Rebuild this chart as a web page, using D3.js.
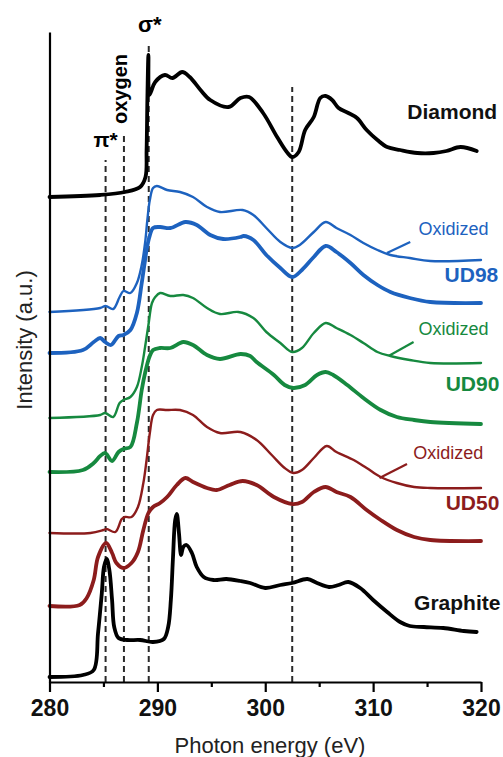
<!DOCTYPE html>
<html>
<head>
  <meta charset="utf-8">
  <script src="https://d3js.org/d3.v7.min.js"></script>
  <style>
    body { margin: 0; background: #fff; }
    svg text { font-family: "Liberation Sans", Arial, sans-serif; }
  </style>
</head>
<body>
<script>
  // photon energy (eV) and intensity (a.u., stacked)
  var diamondE = [280, 284.7, 287.0, 288.4, 288.9, 289.0, 289.08, 289.17, 289.25, 289.4, 289.8, 290.7, 291.4, 292.3, 293.0, 294.0, 294.9, 296.6, 297.7, 298.5, 299.8, 301.1, 302.0, 302.5, 303.1, 303.7, 304.5, 305.1, 305.6, 306.2, 306.8, 307.7, 308.5, 309.4, 310.4, 311.3, 312.5, 314.1, 315.6, 316.8, 318.1, 319.6];
  var diamondI = [48.5, 48.7, 49.0, 49.5, 50.5, 53.2, 58.7, 62.7, 58.7, 59.0, 60.0, 60.7, 60.4, 61.0, 60.5, 59.2, 58.2, 57.5, 58.4, 58.5, 56.9, 54.5, 53.0, 52.5, 53.0, 55.2, 56.5, 58.4, 58.6, 58.2, 57.4, 56.9, 56.4, 55.2, 54.2, 53.5, 53.2, 52.9, 52.9, 53.1, 53.5, 53.1];

  var ud98oxE = [280, 284.7, 285.2, 285.9, 286.5, 286.85, 287.5, 288.1, 288.55, 288.86, 289.07, 289.3, 289.6, 289.95, 290.9, 292.1, 293.3, 294.6, 295.8, 297.9, 298.9, 300.1, 301.4, 302.5, 303.2, 304.5, 305.6, 306.6, 307.9, 309.1, 310.4, 311.6, 313.4, 315.3, 320];
  var ud98oxI = [37.0, 37.4, 37.6, 37.3, 38.5, 39.1, 38.9, 39.9, 41.7, 43.9, 46.2, 48.2, 49.4, 49.6, 49.2, 49.0, 48.5, 47.5, 47.0, 47.2, 46.7, 45.4, 44.0, 43.4, 43.7, 45.0, 46.0, 45.4, 44.7, 43.9, 43.2, 42.7, 42.4, 42.1, 42.2];

  var ud98E = [280, 283.1, 284.1, 284.7, 285.15, 285.7, 286.4, 286.85, 287.5, 288.1, 288.55, 288.86, 289.0, 289.26, 289.6, 290.25, 291.2, 292.6, 293.65, 294.9, 296.1, 297.7, 298.0, 298.9, 300.1, 301.4, 302.5, 303.4, 304.5, 305.6, 306.6, 307.9, 309.1, 310.4, 311.6, 313.4, 315.3, 320];
  var ud98I = [32.9, 33.2, 34.0, 34.4, 34.0, 33.7, 34.6, 34.7, 35.2, 36.9, 39.9, 42.2, 43.2, 44.5, 45.4, 45.5, 45.4, 46.0, 45.7, 44.7, 44.3, 44.5, 44.6, 44.2, 42.7, 41.4, 40.5, 41.2, 42.5, 43.6, 43.0, 41.9, 40.7, 39.7, 39.0, 38.4, 38.0, 37.9];

  var ud90oxE = [280, 284.7, 285.15, 285.9, 286.5, 286.85, 287.5, 288.1, 288.55, 288.86, 289.17, 289.5, 289.8, 290.25, 291.2, 292.4, 293.3, 294.6, 295.8, 297.5, 298.9, 300.1, 301.4, 302.5, 303.4, 304.5, 305.6, 306.6, 307.9, 309.1, 310.4, 311.6, 313.4, 315.3, 320];
  var ud90oxI = [26.4, 26.7, 26.9, 26.5, 27.9, 28.2, 28.5, 29.5, 31.5, 33.5, 35.7, 37.9, 38.5, 38.9, 38.6, 38.7, 38.4, 37.4, 36.8, 37.0, 36.4, 35.0, 33.9, 33.0, 33.4, 34.9, 35.9, 35.4, 34.7, 33.9, 33.0, 32.6, 32.2, 31.9, 31.9];

  var ud90E = [280, 283.1, 284.1, 284.7, 285.15, 285.8, 286.4, 286.85, 287.5, 288.1, 288.55, 288.86, 289.26, 289.6, 290.25, 291.2, 292.4, 293.3, 294.6, 295.8, 297.7, 298.6, 299.2, 300.8, 301.8, 302.6, 303.7, 304.8, 305.6, 306.3, 307.6, 309.1, 310.7, 312.2, 313.8, 315.3, 320];
  var ud90I = [21.0, 21.2, 21.9, 22.6, 22.9, 22.1, 23.0, 23.3, 23.5, 25.9, 29.2, 30.9, 32.5, 33.2, 33.4, 33.4, 34.0, 33.7, 32.7, 32.3, 32.8, 32.6, 32.0, 30.7, 29.7, 29.4, 29.7, 30.7, 31.0, 30.7, 29.7, 28.4, 27.2, 26.5, 26.2, 26.0, 25.8];

  var ud50oxE = [280, 283.8, 285.0, 285.3, 286.1, 286.7, 287.0, 287.6, 288.2, 288.7, 289.0, 289.3, 289.6, 289.95, 290.9, 292.1, 293.3, 294.6, 295.8, 297.7, 299.2, 300.6, 301.8, 302.6, 303.4, 304.5, 305.7, 306.6, 308.2, 309.4, 310.7, 312.2, 313.8, 315.3, 320];
  var ud50oxI = [14.9, 14.9, 15.2, 15.3, 15.0, 16.3, 16.5, 16.5, 17.5, 19.9, 22.2, 24.9, 26.7, 27.2, 27.2, 27.2, 26.7, 25.5, 24.9, 25.0, 24.2, 22.7, 21.4, 20.9, 21.2, 22.4, 23.6, 23.0, 22.2, 21.4, 20.5, 19.9, 19.5, 19.4, 19.4];

  var ud50E = [280, 282.8, 283.45, 284.1, 284.5, 285.25, 285.8, 286.2, 286.85, 287.6, 288.2, 288.7, 289.17, 289.6, 290.25, 290.9, 291.8, 292.6, 293.3, 294.6, 295.5, 296.7, 297.9, 299.2, 300.8, 302.5, 303.4, 304.5, 305.6, 306.6, 307.9, 309.4, 310.7, 312.2, 313.8, 315.3, 320];
  var ud50I = [7.6, 7.7, 8.4, 10.2, 12.5, 13.9, 12.9, 11.9, 11.4, 11.9, 13.0, 15.2, 16.9, 17.5, 17.9, 18.5, 19.7, 20.4, 20.0, 19.4, 19.2, 19.7, 20.1, 19.7, 18.5, 17.8, 18.0, 19.0, 19.5, 19.0, 18.5, 17.2, 16.2, 15.2, 14.5, 14.2, 14.1];

  var graphiteE = [280, 283.1, 284.1, 284.5, 284.85, 285.05, 285.3, 285.55, 285.8, 286.0, 286.4, 287.2, 288.4, 289.6, 290.6, 291.0, 291.25, 291.45, 291.65, 291.8, 292.0, 292.2, 292.4, 292.7, 293.2, 293.65, 294.3, 295.2, 296.4, 297.7, 298.6, 300.0, 301.4, 302.5, 303.9, 304.8, 305.9, 306.8, 307.7, 308.8, 310.0, 311.3, 312.5, 313.4, 314.7, 316.5, 318.4, 319.6];
  var graphiteI = [0.5, 0.7, 1.2, 4.9, 8.9, 11.5, 12.3, 11.2, 8.2, 5.5, 4.4, 4.2, 4.2, 4.0, 4.3, 5.5, 8.2, 12.5, 16.2, 16.8, 14.9, 12.7, 13.5, 13.7, 12.9, 11.5, 10.5, 10.2, 10.3, 10.1, 9.9, 9.4, 9.7, 9.9, 10.3, 9.9, 9.5, 9.7, 10.0, 9.4, 8.2, 7.0, 6.0, 5.6, 5.5, 5.4, 5.1, 5.0];

  // dashed reference lines: pi*, oxygen, sigma*, diamond dip
  var markerE = [285.2, 286.9, 289.2, 302.5];
  var markerTop = [52.2, 54.7, 64.0, 59.5];

  // leader lines from "Oxidized" labels to curves
  var leaderE1 = [313.44, 313.75, 313.14];
  var leaderI1 = [44.0, 34.0, 21.8];
  var leaderE2 = [311.28, 311.43, 310.59];
  var leaderI2 = [42.9, 32.6, 20.4];

  var xTicks = [280, 290, 300, 310, 320];
  var xMinor = [285, 295, 305, 315];

  var blue = "#1d62bf", green = "#16893f", red = "#8c1c1c";

  var svg = d3.select("body").append("svg")
      .attr("width", 503)
      .attr("height", 757);

  var x = d3.scaleLinear().domain([280, 320]).range([49.5, 481]);
  var y = d3.scaleLinear().domain([0, 65]).range([682, 32]);

  function zip(E, I) {
    return E.map(function(e, i) { return [e, I[i]]; });
  }

  var line = d3.line()
      .x(function(d) { return x(d[0]); })
      .y(function(d) { return y(d[1]); })
      .curve(d3.curveCatmullRom.alpha(0.5));

  // dashed lines
  svg.append("g").selectAll("line")
      .data(markerE)
      .enter().append("line")
      .attr("x1", function(d) { return x(d); })
      .attr("x2", function(d) { return x(d); })
      .attr("y1", y(0))
      .attr("y2", function(d, i) { return y(markerTop[i]); })
      .attr("stroke", "#2a2a2a")
      .attr("stroke-width", 2)
      .attr("stroke-dasharray", "6,4");

  var series = [
    { E: diamondE, I: diamondI, color: "#000", w: 3.8 },
    { E: ud98oxE, I: ud98oxI, color: blue, w: 2.4 },
    { E: ud98E, I: ud98I, color: blue, w: 3.8 },
    { E: ud90oxE, I: ud90oxI, color: green, w: 2.4 },
    { E: ud90E, I: ud90I, color: green, w: 3.8 },
    { E: ud50oxE, I: ud50oxI, color: red, w: 2.4 },
    { E: ud50E, I: ud50I, color: red, w: 3.8 },
    { E: graphiteE, I: graphiteI, color: "#000", w: 3.8 }
  ];

  svg.append("g").selectAll("path")
      .data(series)
      .enter().append("path")
      .attr("d", function(s) { return line(zip(s.E, s.I)); })
      .attr("fill", "none")
      .attr("stroke", function(s) { return s.color; })
      .attr("stroke-width", function(s) { return s.w; })
      .attr("stroke-linejoin", "round")
      .attr("stroke-linecap", "round");

  var leaderColors = [blue, green, red];
  svg.append("g").selectAll("line")
      .data(leaderE1)
      .enter().append("line")
      .attr("x1", function(d) { return x(d); })
      .attr("y1", function(d, i) { return y(leaderI1[i]); })
      .attr("x2", function(d, i) { return x(leaderE2[i]); })
      .attr("y2", function(d, i) { return y(leaderI2[i]); })
      .attr("stroke", function(d, i) { return leaderColors[i]; })
      .attr("stroke-width", 2.2);

  // axes
  var xAxis = svg.append("g")
      .attr("transform", "translate(0," + y(0) + ")")
      .call(d3.axisBottom(x).tickValues(xTicks).tickSize(10).tickSizeOuter(0).tickPadding(8));
  xAxis.select(".domain").attr("stroke-width", 2.2);
  xAxis.selectAll(".tick line").attr("stroke-width", 2.2);
  xAxis.selectAll(".tick text")
      .attr("font-size", "23px")
      .attr("font-weight", "bold")
      .attr("font-family", "Liberation Sans, Arial, sans-serif")
      .attr("fill", "#111");

  var xMinorAxis = svg.append("g")
      .attr("transform", "translate(0," + y(0) + ")")
      .call(d3.axisBottom(x).tickValues(xMinor).tickSize(5).tickFormat(""));
  xMinorAxis.select(".domain").remove();
  xMinorAxis.selectAll(".tick line").attr("stroke-width", 2.2);

  var yAxis = svg.append("g")
      .attr("transform", "translate(" + x(280) + ",0)")
      .call(d3.axisLeft(y).tickValues([]).tickSizeOuter(0));
  yAxis.select(".domain").attr("stroke-width", 2.2);

  svg.append("text")
      .attr("x", 270)
      .attr("y", 752.5)
      .attr("text-anchor", "middle")
      .attr("font-size", "22px")
      .attr("fill", "#222")
      .text("Photon energy (eV)");

  svg.append("text")
      .attr("transform", "translate(32,340) rotate(-90)")
      .attr("text-anchor", "middle")
      .attr("font-size", "22px")
      .attr("fill", "#222")
      .text("Intensity (a.u.)");

  // peak labels
  svg.append("text")
      .attr("x", x(285.2))
      .attr("y", 146.5)
      .attr("text-anchor", "middle")
      .attr("font-size", "21px")
      .attr("font-weight", "bold")
      .text("π*");
  svg.append("text")
      .attr("transform", "translate(127,89) rotate(-90)")
      .attr("text-anchor", "middle")
      .attr("font-size", "20px")
      .attr("font-weight", "bold")
      .text("oxygen");
  svg.append("text")
      .attr("x", x(289.2) + 1)
      .attr("y", 31.5)
      .attr("text-anchor", "middle")
      .attr("font-size", "22px")
      .attr("font-weight", "bold")
      .text("σ*");

  // series labels
  var labelText = ["Diamond", "Oxidized", "UD98", "Oxidized", "UD90", "Oxidized", "UD50", "Graphite"];
  var labelE = [321.5, 320.7, 321.6, 320.7, 321.7, 320.2, 321.7, 321.8];
  var labelI = [56.3, 44.7, 40.0, 34.7, 29.1, 22.3, 17.2, 7.2];
  var labelColor = ["#111", blue, blue, green, green, red, red, "#111"];
  var labelBold = [true, false, true, false, true, false, true, true];

  svg.append("g").selectAll("text")
      .data(labelText)
      .enter().append("text")
      .attr("x", function(d, i) { return x(labelE[i]); })
      .attr("y", function(d, i) { return y(labelI[i]); })
      .attr("text-anchor", "end")
      .attr("font-size", function(d, i) { return labelBold[i] ? "21px" : "18px"; })
      .attr("font-weight", function(d, i) { return labelBold[i] ? "bold" : "normal"; })
      .attr("fill", function(d, i) { return labelColor[i]; })
      .text(function(d) { return d; });
</script>
</body>
</html>
